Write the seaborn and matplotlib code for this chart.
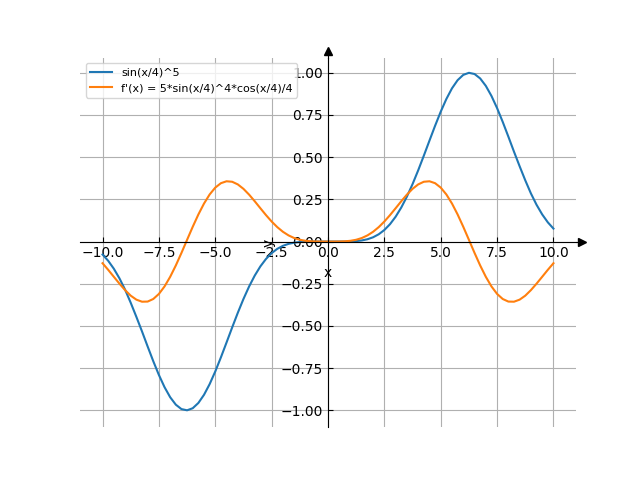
import matplotlib
matplotlib.use("Agg")
import matplotlib.pyplot as plt
import seaborn as sns
import pandas as pd

x_vals = [i * 0.25 for i in range(-40, 41)]

f_vals = [
    -0.076775, -0.113890, -0.160897, -0.217910, -0.285169, -0.362750, -0.446071, -0.532336,
    -0.621625, -0.708934, -0.790565, -0.862867, -0.922453, -0.966508, -0.992735, -0.999830,
    -0.987537, -0.956426, -0.908047, -0.844785, -0.769657, -0.686158, -0.597969, -0.508746,
    -0.421887, -0.340326, -0.266389, -0.201701, -0.147154, -0.102926, -0.068571, -0.043139,
    -0.025329, -0.013651, -0.006592, -0.002747, -0.000927, -0.000225, -0.0000301, -0.00000095,
    0.0,
    0.00000095, 0.0000301, 0.000225, 0.000927, 0.002747, 0.006592, 0.013651, 0.025329,
    0.043139, 0.068571, 0.102926, 0.147154, 0.201701, 0.266389, 0.340326, 0.421887,
    0.508746, 0.597969, 0.686158, 0.769657, 0.844785, 0.908047, 0.956426, 0.987537,
    0.999830, 0.992735, 0.966508, 0.922453, 0.862867, 0.790565, 0.708934, 0.621625,
    0.532336, 0.446071, 0.362750, 0.285169, 0.217910, 0.160897, 0.113890, 0.076775,
]

df_vals = [
    -0.128469, -0.167530, -0.208719, -0.249569, -0.287794, -0.320672, -0.344199, -0.356382,
    -0.355617, -0.340354, -0.310245, -0.265896, -0.208874, -0.141635, -0.067327, 0.010369,
    0.087539, 0.160311, 0.225124, 0.278987, 0.319672, 0.345859, 0.357199, 0.354293,
    0.338613, 0.312326, 0.278090, 0.238819, 0.197449, 0.156679, 0.118801, 0.085534,
    0.057954, 0.036483, 0.020934, 0.010627, 0.004538, 0.001483, 0.000300, 0.000019,
    0.0,
    0.000019, 0.000300, 0.001483, 0.004538, 0.010627, 0.020934, 0.036483, 0.057954,
    0.085534, 0.118801, 0.156679, 0.197449, 0.238819, 0.278090, 0.312326, 0.338613,
    0.354293, 0.357199, 0.345859, 0.319672, 0.278987, 0.225124, 0.160311, 0.087539,
    0.010369, -0.067327, -0.141635, -0.208874, -0.265896, -0.310245, -0.340354, -0.355617,
    -0.356382, -0.344199, -0.320672, -0.287794, -0.249569, -0.208719, -0.167530, -0.128469,
]

labels = ["sin(x/4)^5", "f'(x) = 5*sin(x/4)^4*cos(x/4)/4"]

df = pd.DataFrame({
    "x": x_vals + x_vals,
    "y": f_vals + df_vals,
    "series": [labels[0]] * len(x_vals) + [labels[1]] * len(x_vals),
})

fig, ax = plt.subplots(figsize=(6.4, 4.8), dpi=100)
sns.lineplot(data=df, x="x", y="y", hue="series", palette=["#1f77b4", "#ff7f0e"], ax=ax, lw=1.5)

ax.spines["left"].set_position("zero")
ax.spines["bottom"].set_position("zero")
ax.spines["right"].set_visible(False)
ax.spines["top"].set_visible(False)
ax.set_xlim(-11, 11)
ax.set_ylim(-1.1, 1.09)
ax.set_xticks([-10, -7.5, -5, -2.5, 0, 2.5, 5, 7.5, 10])
ax.set_yticks([-1, -0.75, -0.5, -0.25, 0, 0.25, 0.5, 0.75, 1])
ax.set_xticklabels(["−10.0", "−7.5", "−5.0", "−2.5", "0.0", "2.5", "5.0", "7.5", "10.0"])
ax.set_yticklabels(["−1.00", "−0.75", "−0.50", "−0.25", "0.00", "0.25", "0.50", "0.75", "1.00"])
ax.tick_params(direction="in")
ax.grid(True)
ax.set_xlabel("x")
ax.set_ylabel("y")

# arrows at the ends of the axes
ax.plot([1, 1.012], [0, 0], "k-", lw=0.8, transform=ax.get_yaxis_transform(), clip_on=False)
ax.plot(1.012, 0, ">k", transform=ax.get_yaxis_transform(), clip_on=False)
ax.plot([0, 0], [1, 1.019], "k-", lw=0.8, transform=ax.get_xaxis_transform(), clip_on=False)
ax.plot(0, 1.019, "^k", transform=ax.get_xaxis_transform(), clip_on=False)

ax.legend(loc="upper left", fontsize=8)
fig.savefig("out.png", dpi=100)
